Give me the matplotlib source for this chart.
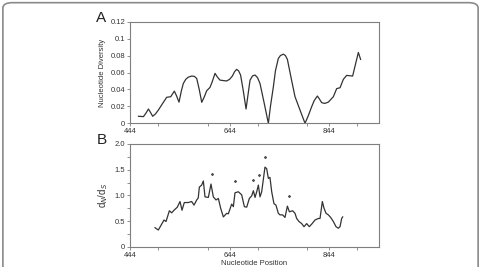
import numpy as np
import matplotlib.pyplot as plt
from matplotlib.patches import FancyBboxPatch
from matplotlib.ticker import MultipleLocator

plt.rcParams['font.family'] = ['Liberation Sans', 'DejaVu Sans']

# panel A: nucleotide diversity
pos_a = [461, 471, 476, 481, 485, 489.5, 495, 501, 509, 517.6, 525.7, 533, 537, 542.4, 547,
         551, 556, 561, 567.8, 573, 577.9, 583, 588, 593, 598, 604.6, 609, 614.7, 619,
         624.7, 631, 638, 644, 649.5, 654, 658, 662, 666, 671, 677, 681, 685, 690, 695,
         700, 705, 713, 721.8, 726, 731.8, 736, 741.8, 746, 751.9, 756, 760, 767, 775.3,
         785.3, 795.4, 802, 808.8, 814, 820.2, 824, 828.8, 835, 842.2, 852.3, 859, 865.7,
         872.4, 879, 885, 891, 896, 902.5, 907]
div_a = [0.0083, 0.0079, 0.012, 0.0169, 0.013, 0.0083, 0.011, 0.0157, 0.023, 0.0307, 0.0314,
         0.038, 0.033, 0.025, 0.038, 0.047, 0.052, 0.0545, 0.0558, 0.0555, 0.053, 0.040,
         0.0248, 0.031, 0.0385, 0.0424, 0.049, 0.059, 0.055, 0.051, 0.0505, 0.050, 0.052,
         0.0558, 0.061, 0.0637, 0.062, 0.057, 0.040, 0.0169, 0.034, 0.051, 0.056, 0.057,
         0.054, 0.047, 0.025, 0.0, 0.020, 0.043, 0.062, 0.0766, 0.080, 0.0817, 0.080,
         0.0755, 0.055, 0.0314, 0.0157, 0.0, 0.009, 0.0197, 0.027, 0.0322, 0.029, 0.0244,
         0.0235, 0.025, 0.0314, 0.041, 0.042, 0.052, 0.0566, 0.0562, 0.0558, 0.068, 0.0837,
         0.0755]

# panel B: dN/dS
pos_b = [494.2, 500.9, 507.6, 512.3, 516.3, 523, 527.7, 532.3, 539, 544.4, 548.4, 553, 561,
         567.8, 572.5, 577.9, 581, 583.2, 587.9, 591.2, 594.6, 601.3, 606.6, 611.3, 616.7,
         621.4, 626, 631.4, 638, 641.4, 648.1, 651.5, 654.8, 661.5, 668.2, 673.6, 678.3,
         683.6, 688.3, 691.7, 695, 698.4, 701.7, 705, 708.4, 715, 718.4, 721.8, 725, 728.5,
         733, 737, 741.8, 745.2, 750.5, 755.2, 760, 764, 770.6, 775.3, 778.6, 783.3, 788.7,
         793.4, 798.7, 804, 808.8, 815.5, 822.2, 825.5, 830.2, 833.5, 837.6, 842.2, 846.9,
         852.3, 857.6, 862.3, 865.7, 869, 871]
ratio_b = [0.37, 0.325, 0.44, 0.52, 0.49, 0.70, 0.66, 0.71, 0.77, 0.88, 0.71, 0.86, 0.86,
           0.88, 0.81, 0.91, 0.95, 1.16, 1.20, 1.28, 0.97, 0.96, 1.22, 0.97, 0.91, 0.94,
           0.75, 0.58, 0.65, 0.64, 0.83, 0.78, 1.05, 1.07, 1.01, 0.78, 0.77, 0.94, 0.99,
           1.09, 0.96, 1.07, 1.20, 0.97, 1.07, 1.55, 1.52, 1.33, 1.35, 1.07, 0.84, 0.81,
           0.65, 0.62, 0.62, 0.57, 0.79, 0.68, 0.70, 0.65, 0.55, 0.49, 0.45, 0.39, 0.45,
           0.39, 0.44, 0.52, 0.55, 0.55, 0.88, 0.75, 0.65, 0.62, 0.57, 0.49, 0.39, 0.36,
           0.39, 0.55, 0.58]

# significant windows (asterisks)
star_x = [608, 655.5, 691.7, 703.7, 715, 762.6]
star_y = [1.42, 1.27, 1.30, 1.40, 1.74, 0.99]

fig = plt.figure(figsize=(4.81, 2.67), dpi=100)
fig.patches.append(FancyBboxPatch((0.006, -0.05), 0.988, 1.04,
                                  boxstyle='round,pad=0,rounding_size=0.02',
                                  transform=fig.transFigure, fill=False,
                                  edgecolor='#8a8a8a', lw=1.2))

axa = fig.add_axes([0.2703, 0.5382, 0.5177, 0.3805])
axb = fig.add_axes([0.2703, 0.076, 0.5177, 0.3847])

spine_c = '#7f7f7f'
for ax in (axa, axb):
    for s in ax.spines.values():
        s.set_color(spine_c)
        s.set_linewidth(0.8)
    ax.set_xlim(444, 944)
    ax.set_xticks([444, 644, 844])
    ax.xaxis.set_minor_locator(MultipleLocator(100))
    ax.tick_params(which='both', direction='out', length=2.5, width=0.6,
                   color=spine_c, labelsize=5.5, pad=1, labelcolor='#333333')

axa.plot(pos_a, div_a, color='#333333', lw=0.9)
axa.set_ylim(0, 0.12)
axa.set_yticks([0, 0.02, 0.04, 0.06, 0.08, 0.1, 0.12])
axa.set_yticklabels(['0', '0.02', '0.04', '0.06', '0.08', '0.1', '0.12'])
axa.set_ylabel('Nucleotide Diversity', fontsize=5.5, color='#333333', labelpad=3)
axa.text(-0.135, 1.0, 'A', transform=axa.transAxes, fontsize=11, color='#222222')

axb.plot(pos_b, ratio_b, color='#333333', lw=0.9)
axb.plot(star_x, star_y, linestyle='none', marker=(6, 2, 0), markersize=1.8,
         markeredgewidth=0.45, color='#555555')
axb.set_ylim(0, 2.0)
axb.set_yticks([0, 0.5, 1.0, 1.5, 2.0])
axb.set_yticklabels(['0', '0.5', '1.0', '1.5', '2.0'])
axb.yaxis.set_minor_locator(MultipleLocator(0.25))
axb.set_ylabel('d$_N$/d$_S$', fontsize=7, color='#333333', labelpad=3)
axb.set_xlabel('Nucleotide Position', fontsize=5.5, color='#333333', labelpad=1)
axb.text(-0.135, 1.0, 'B', transform=axb.transAxes, fontsize=11, color='#222222')

plt.savefig('out.png', dpi=100)
